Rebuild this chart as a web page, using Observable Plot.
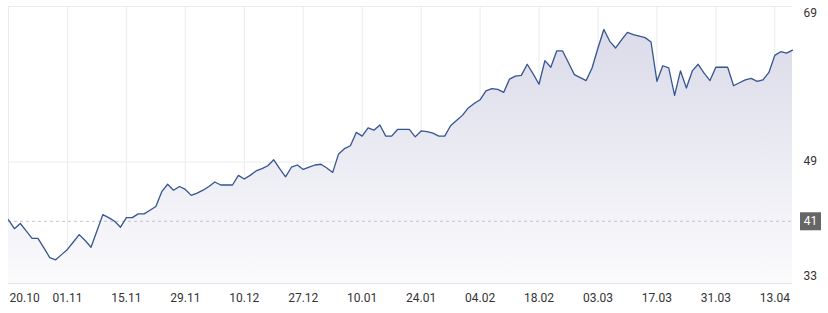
<!DOCTYPE html>
<html>
<head>
<meta charset="utf-8">
<script src="https://cdn.jsdelivr.net/npm/d3@7"></script>
<script src="https://cdn.jsdelivr.net/npm/@observablehq/plot@0.6"></script>
<style>
  html, body { margin: 0; padding: 0; background: #fff; }
  #chart { width: 828px; height: 313px; }
</style>
</head>
<body>
<div id="chart"></div>
<script>
// Tick labels on the x axis (trading-day index positions)
const xLabels = ["20.10","01.11","15.11","29.11","10.12","27.12","10.01","24.01","04.02","18.02","03.03","17.03","31.03","13.04"];
const xLabelIndex = [0,10,20,30,40,50,60,70,80,90,100,110,120,130];

// Daily values (one per trading day)
const values = [
  41.2,40.0,40.7,39.7,38.7,38.7,37.4,36.1,35.8,36.5,
  37.2,38.2,39.2,38.4,37.5,39.7,41.9,41.5,41.0,40.2,
  41.5,41.5,42.0,42.0,42.5,43.0,45.0,46.0,45.2,45.7,
  45.3,44.5,44.8,45.2,45.7,46.3,45.9,45.9,45.9,47.2,
  46.7,47.2,47.8,48.1,48.5,49.3,48.1,47.0,48.3,48.6,
  48.0,48.3,48.6,48.7,48.2,47.6,50.1,50.8,51.2,53.0,
  52.5,53.6,53.3,54.0,52.5,52.5,53.4,53.4,53.4,52.4,
  53.2,53.1,52.9,52.5,52.5,53.9,54.6,55.3,56.3,56.9,
  57.4,58.6,58.9,58.8,58.4,60.2,60.6,60.7,62.2,60.9,
  59.5,62.7,61.8,64.0,64.0,62.4,60.8,60.4,60.0,61.7,
  64.4,66.9,65.3,64.4,65.5,66.5,66.2,66.0,65.8,65.2,
  59.9,62.0,61.7,58.0,61.3,59.0,61.3,62.2,61.0,60.0,
  61.8,61.8,61.8,59.3,59.7,60.1,60.3,59.9,60.1,61.1,
  63.4,63.9,63.7,64.1
];

// Reference level (dashed line + badge)
const refValue = 41;

// Y axis
const yTicks = [33, 49, 69];
const yDomain = [32.6, 70];

const data = values.map((v, i) => ({ i, v }));

const badgeSymbol = {
  draw(context) {
    context.moveTo(-10.5, -9);
    context.lineTo(10.5, -9);
    context.lineTo(10.5, 9);
    context.lineTo(-10.5, 9);
    context.closePath();
  }
};

const chart = Plot.plot({
  width: 828,
  height: 313,
  marginLeft: 8,
  marginRight: 36,
  marginTop: 6,
  marginBottom: 30,
  style: { fontFamily: "Roboto, sans-serif", fontSize: "12px", color: "#333", background: "#fff" },
  x: { domain: [0, values.length - 1], label: null },
  y: { domain: yDomain, label: null },
  marks: [
    Plot.ruleX(xLabelIndex, { stroke: "#ebebeb", strokeWidth: 1 }),
    Plot.ruleY([yDomain[1], 49], { stroke: "#ebebeb", strokeWidth: 1 }),
    Plot.areaY(data, { x: "i", y1: yDomain[0], y2: "v", fill: "url(#areaGrad)" }),
    Plot.ruleY([yDomain[0]], { stroke: "#e2e2e2", strokeWidth: 1 }),
    Plot.ruleY([refValue], { stroke: "#c4c4d2", strokeDasharray: "3,3", strokeWidth: 1 }),
    Plot.lineY(data, { x: "i", y: "v", stroke: "#36568f", strokeWidth: 1.3 }),
    Plot.axisX(xLabelIndex.slice(1), {
      label: null, tickSize: 0, tickPadding: 10, fontSize: 12, fill: "#333",
      tickFormat: d => xLabels[xLabelIndex.indexOf(d)]
    }),
    Plot.axisX(xLabelIndex.slice(0, 1), {
      label: null, tickSize: 0, tickPadding: 10, fontSize: 12, fill: "#333", textAnchor: "start", dx: 1,
      tickFormat: d => xLabels[xLabelIndex.indexOf(d)]
    }),
    Plot.axisY(yTicks.slice(1), {
      label: null, anchor: "right", tickSize: 0, tickPadding: 11, fontSize: 12, fill: "#333", textAnchor: "start", dy: -1
    }),
    Plot.axisY(yTicks.slice(0, 1), {
      label: null, anchor: "right", tickSize: 0, tickPadding: 11, fontSize: 12, fill: "#333", textAnchor: "start", dy: -4
    }),
    Plot.dot([refValue], { y: d => d, frameAnchor: "right", dx: 18, symbol: badgeSymbol, fill: "#666", stroke: "none" }),
    Plot.text([refValue], { y: d => d, text: d => String(d), frameAnchor: "right", dx: 18, fill: "#fff", fontSize: 12, textAnchor: "middle" })
  ]
});

const svgNS = "http://www.w3.org/2000/svg";
const defs = document.createElementNS(svgNS, "defs");
const grad = document.createElementNS(svgNS, "linearGradient");
grad.setAttribute("id", "areaGrad");
grad.setAttribute("gradientUnits", "userSpaceOnUse");
grad.setAttribute("x1", "0"); grad.setAttribute("x2", "0");
grad.setAttribute("y1", "6"); grad.setAttribute("y2", "283");
[["0%", "#d8d8e8"], ["100%", "#fbfbfd"]].forEach(([o, c]) => {
  const s = document.createElementNS(svgNS, "stop");
  s.setAttribute("offset", o);
  s.setAttribute("stop-color", c);
  grad.appendChild(s);
});
defs.appendChild(grad);
chart.insertBefore(defs, chart.firstChild);

document.getElementById("chart").appendChild(chart);
</script>
</body>
</html>
